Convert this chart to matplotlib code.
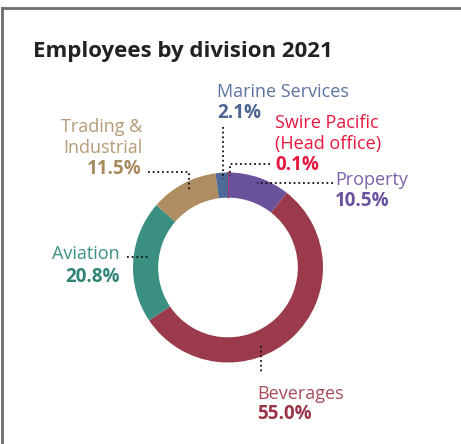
import matplotlib
matplotlib.use("Agg")
import matplotlib.pyplot as plt
from matplotlib.lines import Line2D

# Employee share by division, 2021 (%)
divisions = ["Swire Pacific\n(Head office)", "Property", "Beverages",
             "Aviation", "Trading &\nIndustrial", "Marine Services"]
shares = [0.1, 10.5, 55.0, 20.8, 11.5, 2.1]
wedge_colors = ["#e8173e", "#6b529c", "#9b3a4a", "#3a8f81", "#ae8d61", "#4e6a96"]
name_colors = ["#e8173e", "#7b62ab", "#a64b5a", "#3a9284", "#b59b77", "#5b74a0"]
value_colors = ["#e8173e", "#6a51a0", "#9a3447", "#2f8475", "#a88a5f", "#4a6490"]
title = "Employees by division 2021"

W, H = 461, 444
DPI = 100
fig = plt.figure(figsize=(W / DPI, H / DPI), dpi=DPI)
fig.patch.set_facecolor("white")
FONT = "Open Sans"

# donut, placed by pixel box: centre (228, 267.5), radius 95 px
cx, cy, r = 228, 267.5, 95
pie_ax = fig.add_axes([(cx - r) / W, (H - cy - r) / H, 2 * r / W, 2 * r / H])
wedges, _ = pie_ax.pie(shares, colors=wedge_colors, startangle=90,
                       counterclock=False, radius=1.0,
                       wedgeprops=dict(width=0.265, linewidth=0))
# the tiny head-office slice gets an outline so it stays visible
wedges[0].set_edgecolor(wedge_colors[0])
wedges[0].set_linewidth(1.0)
pie_ax.set_xlim(-1, 1)
pie_ax.set_ylim(-1, 1)
pie_ax.axis("off")

# overlay in pixel coordinates for labels, leaders and frame
ov = fig.add_axes([0, 0, 1, 1], facecolor="none")
ov.set_xlim(0, W)
ov.set_ylim(H, 0)
ov.axis("off")

# card frame (top and left edges)
ov.add_line(Line2D([1.5, W], [8.5, 8.5], color="#6e6e6e", lw=2.0))
ov.add_line(Line2D([1.5, 1.5], [8.5, H], color="#6e6e6e", lw=2.0))

ov.text(33, 57, title, fontsize=16, fontweight="bold", color="#222222",
        family=FONT, va="baseline", ha="left")

FS = 13
FS_VAL = 13.5


def label(i, x, y_name, y_val, ha="left", gap=20.5):
    lines = divisions[i].split("\n")
    for k, ln in enumerate(lines):
        ov.text(x, y_name + k * gap, ln, fontsize=FS, color=name_colors[i],
                family=FONT, va="baseline", ha=ha)
    ov.text(x, y_val, f"{shares[i]:.1f}%", fontsize=FS_VAL, fontweight="bold",
            color=value_colors[i], family=FONT, va="baseline", ha=ha)


def leader(xs, ys):
    ov.add_line(Line2D(xs, ys, color="#111111", lw=1.3,
                       linestyle=(0, (1, 1.6)), solid_capstyle="round"))


# Marine Services
label(5, 217, 97, 118)
leader([222.5, 222.5], [127, 179])
# Swire Pacific head office
label(0, 275, 128, 170)
leader([270, 229.5, 229.5], [164, 164, 176])
# Property
label(1, 335, 185, 206)
leader([333, 257], [183, 183])
# Beverages
label(2, 257, 399, 419)
leader([261, 261], [346, 374])
# Aviation
label(3, 120, 259, 282, ha="right")
leader([127, 149], [257, 257])
# Trading & Industrial
label(4, 142, 132, 174, ha="right")
leader([148, 189, 189], [172, 172, 190])

fig.savefig("out.png", dpi=DPI, facecolor="white")
